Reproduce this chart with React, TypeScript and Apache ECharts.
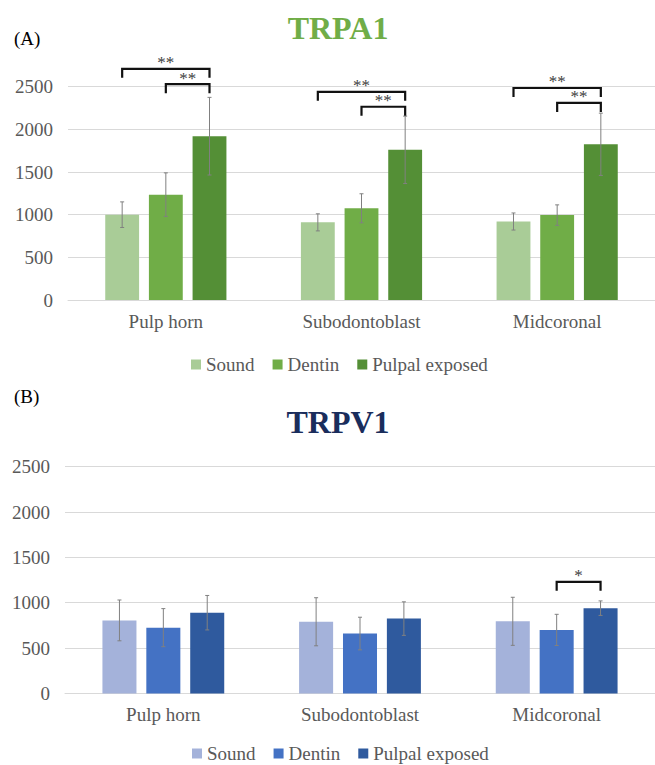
import React, { useEffect, useRef } from 'react';
import * as echarts from 'echarts';

const FONT = "'Liberation Serif', 'Times New Roman', serif";

const categories = ['Pulp horn', 'Subodontoblast', 'Midcoronal'];
const seriesNames = ['Sound', 'Dentin', 'Pulpal exposed'];
const yTicks = [0, 500, 1000, 1500, 2000, 2500];

// TRPA1 (A)
const trpa1Sound = [1000, 910, 920];
const trpa1Dentin = [1235, 1075, 995];
const trpa1Pulpal = [1920, 1760, 1825];
const trpa1SoundErr = [150, 100, 100];
const trpa1DentinErr = [255, 170, 120];
const trpa1PulpalErr = [455, 395, 365];
// [category, fromBar, toBar, y, label]
const trpa1Brackets: [number, number, number, number, string][] = [
  [0, 0, 2, 2710, '**'],
  [0, 1, 2, 2530, '**'],
  [1, 0, 2, 2440, '**'],
  [1, 1, 2, 2265, '**'],
  [2, 0, 2, 2485, '**'],
  [2, 1, 2, 2310, '**'],
];

// TRPV1 (B)
const trpv1Sound = [805, 790, 795];
const trpv1Dentin = [725, 660, 700];
const trpv1Pulpal = [890, 825, 940];
const trpv1SoundErr = [225, 265, 265];
const trpv1DentinErr = [210, 180, 172];
const trpv1PulpalErr = [190, 185, 80];
const trpv1Brackets: [number, number, number, number, string][] = [
  [2, 1, 2, 1230, '*'],
];

const BAR_W = 0.173;
const BAR_GAP = 0.29;

interface Cfg {
  panel: string;
  panelY: number;
  title: string;
  titleColor: string;
  titleY: number;
  colors: string[];
  values: number[][];
  errors: number[][];
  brackets: [number, number, number, number, string][];
  grid: { left: number; top: number; width: number; height: number };
  legendLeft: number;
  legendTop: number;
}

function barOffset(idx: number, band: number) {
  return (idx - 1) * band * BAR_W * (1 + BAR_GAP);
}

function buildOption(cfg: Cfg): any {
  const barSeries = cfg.values.map((vals, i) => ({
    type: 'bar',
    name: seriesNames[i],
    data: vals,
    barWidth: BAR_W * 100 + '%',
    barGap: BAR_GAP * 100 + '%',
    itemStyle: { color: cfg.colors[i] },
    z: 2,
  }));
  const errSeries = cfg.values.map((vals, i) => ({
    type: 'custom',
    name: 'err' + i,
    z: 3,
    silent: true,
    clip: false,
    data: vals.map((v, c) => [c, v, cfg.errors[i][c]]),
    encode: { x: 0, y: 1 },
    renderItem: (params: any, api: any) => {
      const band = api.size([1, 0])[0];
      const c = api.value(0);
      const v = api.value(1);
      const e = api.value(2);
      const top = api.coord([c, v + e]);
      const bot = api.coord([c, v - e]);
      const x = top[0] + barOffset(i, band);
      const style = { stroke: '#808080', lineWidth: 1 };
      return {
        type: 'group',
        children: [
          { type: 'line', shape: { x1: x, y1: top[1], x2: x, y2: bot[1] }, style },
          { type: 'line', shape: { x1: x - 2, y1: top[1], x2: x + 2, y2: top[1] }, style },
          { type: 'line', shape: { x1: x - 2, y1: bot[1], x2: x + 2, y2: bot[1] }, style },
        ],
      };
    },
  }));
  const bracketSeries = {
    type: 'custom',
    name: 'brackets',
    z: 4,
    silent: true,
    clip: false,
    data: cfg.brackets.map((b) => [b[0], b[3]]),
    encode: { x: 0, y: 1 },
    renderItem: (params: any, api: any) => {
      const b = cfg.brackets[params.dataIndex];
      const band = api.size([1, 0])[0];
      const base = api.coord([b[0], b[3]]);
      const x1 = base[0] + barOffset(b[1], band);
      const x2 = base[0] + barOffset(b[2], band);
      const y = base[1];
      return {
        type: 'group',
        children: [
          {
            type: 'polyline',
            shape: { points: [[x1, y + 9], [x1, y], [x2, y], [x2, y + 9]] },
            style: { stroke: '#111111', lineWidth: 2.2, fill: null },
          },
          {
            type: 'text',
            style: {
              text: b[4],
              x: (x1 + x2) / 2,
              y: y - 6,
              align: 'center',
              verticalAlign: 'middle',
              textAlign: 'center',
              textVerticalAlign: 'middle',
              fontSize: 17,
              fontFamily: FONT,
              fill: '#404040',
            },
          },
        ],
      };
    },
  };

  return {
    animation: false,
    backgroundColor: '#ffffff',
    textStyle: { fontFamily: FONT },
    graphic: [
      {
        type: 'text',
        x: 338,
        y: cfg.titleY,
        style: {
          text: cfg.title,
          align: 'center',
          verticalAlign: 'middle',
          textAlign: 'center',
          textVerticalAlign: 'middle',
          fontSize: 32,
          fontWeight: 'bold',
          fontFamily: FONT,
          fill: cfg.titleColor,
        },
      },
      {
        type: 'text',
        x: 14,
        y: cfg.panelY,
        style: {
          text: cfg.panel,
          align: 'left',
          verticalAlign: 'middle',
          textAlign: 'left',
          textVerticalAlign: 'middle',
          fontSize: 19,
          fontFamily: FONT,
          fill: '#000000',
        },
      },
    ],
    legend: {
      data: seriesNames,
      left: cfg.legendLeft,
      top: cfg.legendTop,
      icon: 'rect',
      itemWidth: 10,
      itemHeight: 10,
      itemGap: 18,
      textStyle: { fontSize: 19, color: '#595959', fontFamily: FONT },
    },
    grid: cfg.grid,
    xAxis: {
      type: 'category',
      data: categories,
      axisLine: { show: true, lineStyle: { color: '#D9D9D9', width: 1 } },
      axisTick: { show: false },
      axisLabel: { fontSize: 19, color: '#595959', fontFamily: FONT, margin: 12 },
    },
    yAxis: {
      type: 'value',
      min: yTicks[0],
      max: yTicks[yTicks.length - 1],
      interval: yTicks[1] - yTicks[0],
      axisLine: { show: false },
      axisTick: { show: false },
      splitLine: { lineStyle: { color: '#D9D9D9', width: 1 } },
      axisLabel: {
        fontSize: 19,
        color: '#595959',
        fontFamily: FONT,
        margin: 15,
        formatter: (v: number) => String(v),
      },
    },
    series: [...barSeries, ...errSeries, bracketSeries],
  };
}

const topCfg: Cfg = {
  panel: '(A)',
  panelY: 38,
  title: 'TRPA1',
  titleColor: '#70AD47',
  titleY: 28,
  colors: ['#A9CC97', '#70AD47', '#548F36'],
  values: [trpa1Sound, trpa1Dentin, trpa1Pulpal],
  errors: [trpa1SoundErr, trpa1DentinErr, trpa1PulpalErr],
  brackets: trpa1Brackets,
  grid: { left: 68, top: 86.7, width: 591, height: 213.3 },
  legendLeft: 186,
  legendTop: 350,
};

const bottomCfg: Cfg = {
  panel: '(B)',
  panelY: 11,
  title: 'TRPV1',
  titleColor: '#1A2D5C',
  titleY: 37,
  colors: ['#A4B2DA', '#4472C4', '#2F5A9E'],
  values: [trpv1Sound, trpv1Dentin, trpv1Pulpal],
  errors: [trpv1SoundErr, trpv1DentinErr, trpv1PulpalErr],
  brackets: trpv1Brackets,
  grid: { left: 65, top: 81.7, width: 603, height: 226.7 },
  legendLeft: 187,
  legendTop: 354,
};

function Chart({ cfg, top, height }: { cfg: Cfg; top: number; height: number }) {
  const ref = useRef<HTMLDivElement>(null);
  useEffect(() => {
    if (!ref.current) return;
    const chart = echarts.init(ref.current, undefined, { renderer: 'svg' });
    chart.setOption(buildOption(cfg));
    return () => chart.dispose();
  }, [cfg]);
  return (
    <div
      ref={ref}
      style={{ position: 'absolute', left: 0, top, width: 655, height }}
    />
  );
}

export default function App() {
  return (
    <div style={{ position: 'absolute', left: 0, top: 0, width: 655, height: 765, background: '#fff' }}>
      <Chart cfg={topCfg} top={0} height={385} />
      <Chart cfg={bottomCfg} top={385} height={380} />
    </div>
  );
}
